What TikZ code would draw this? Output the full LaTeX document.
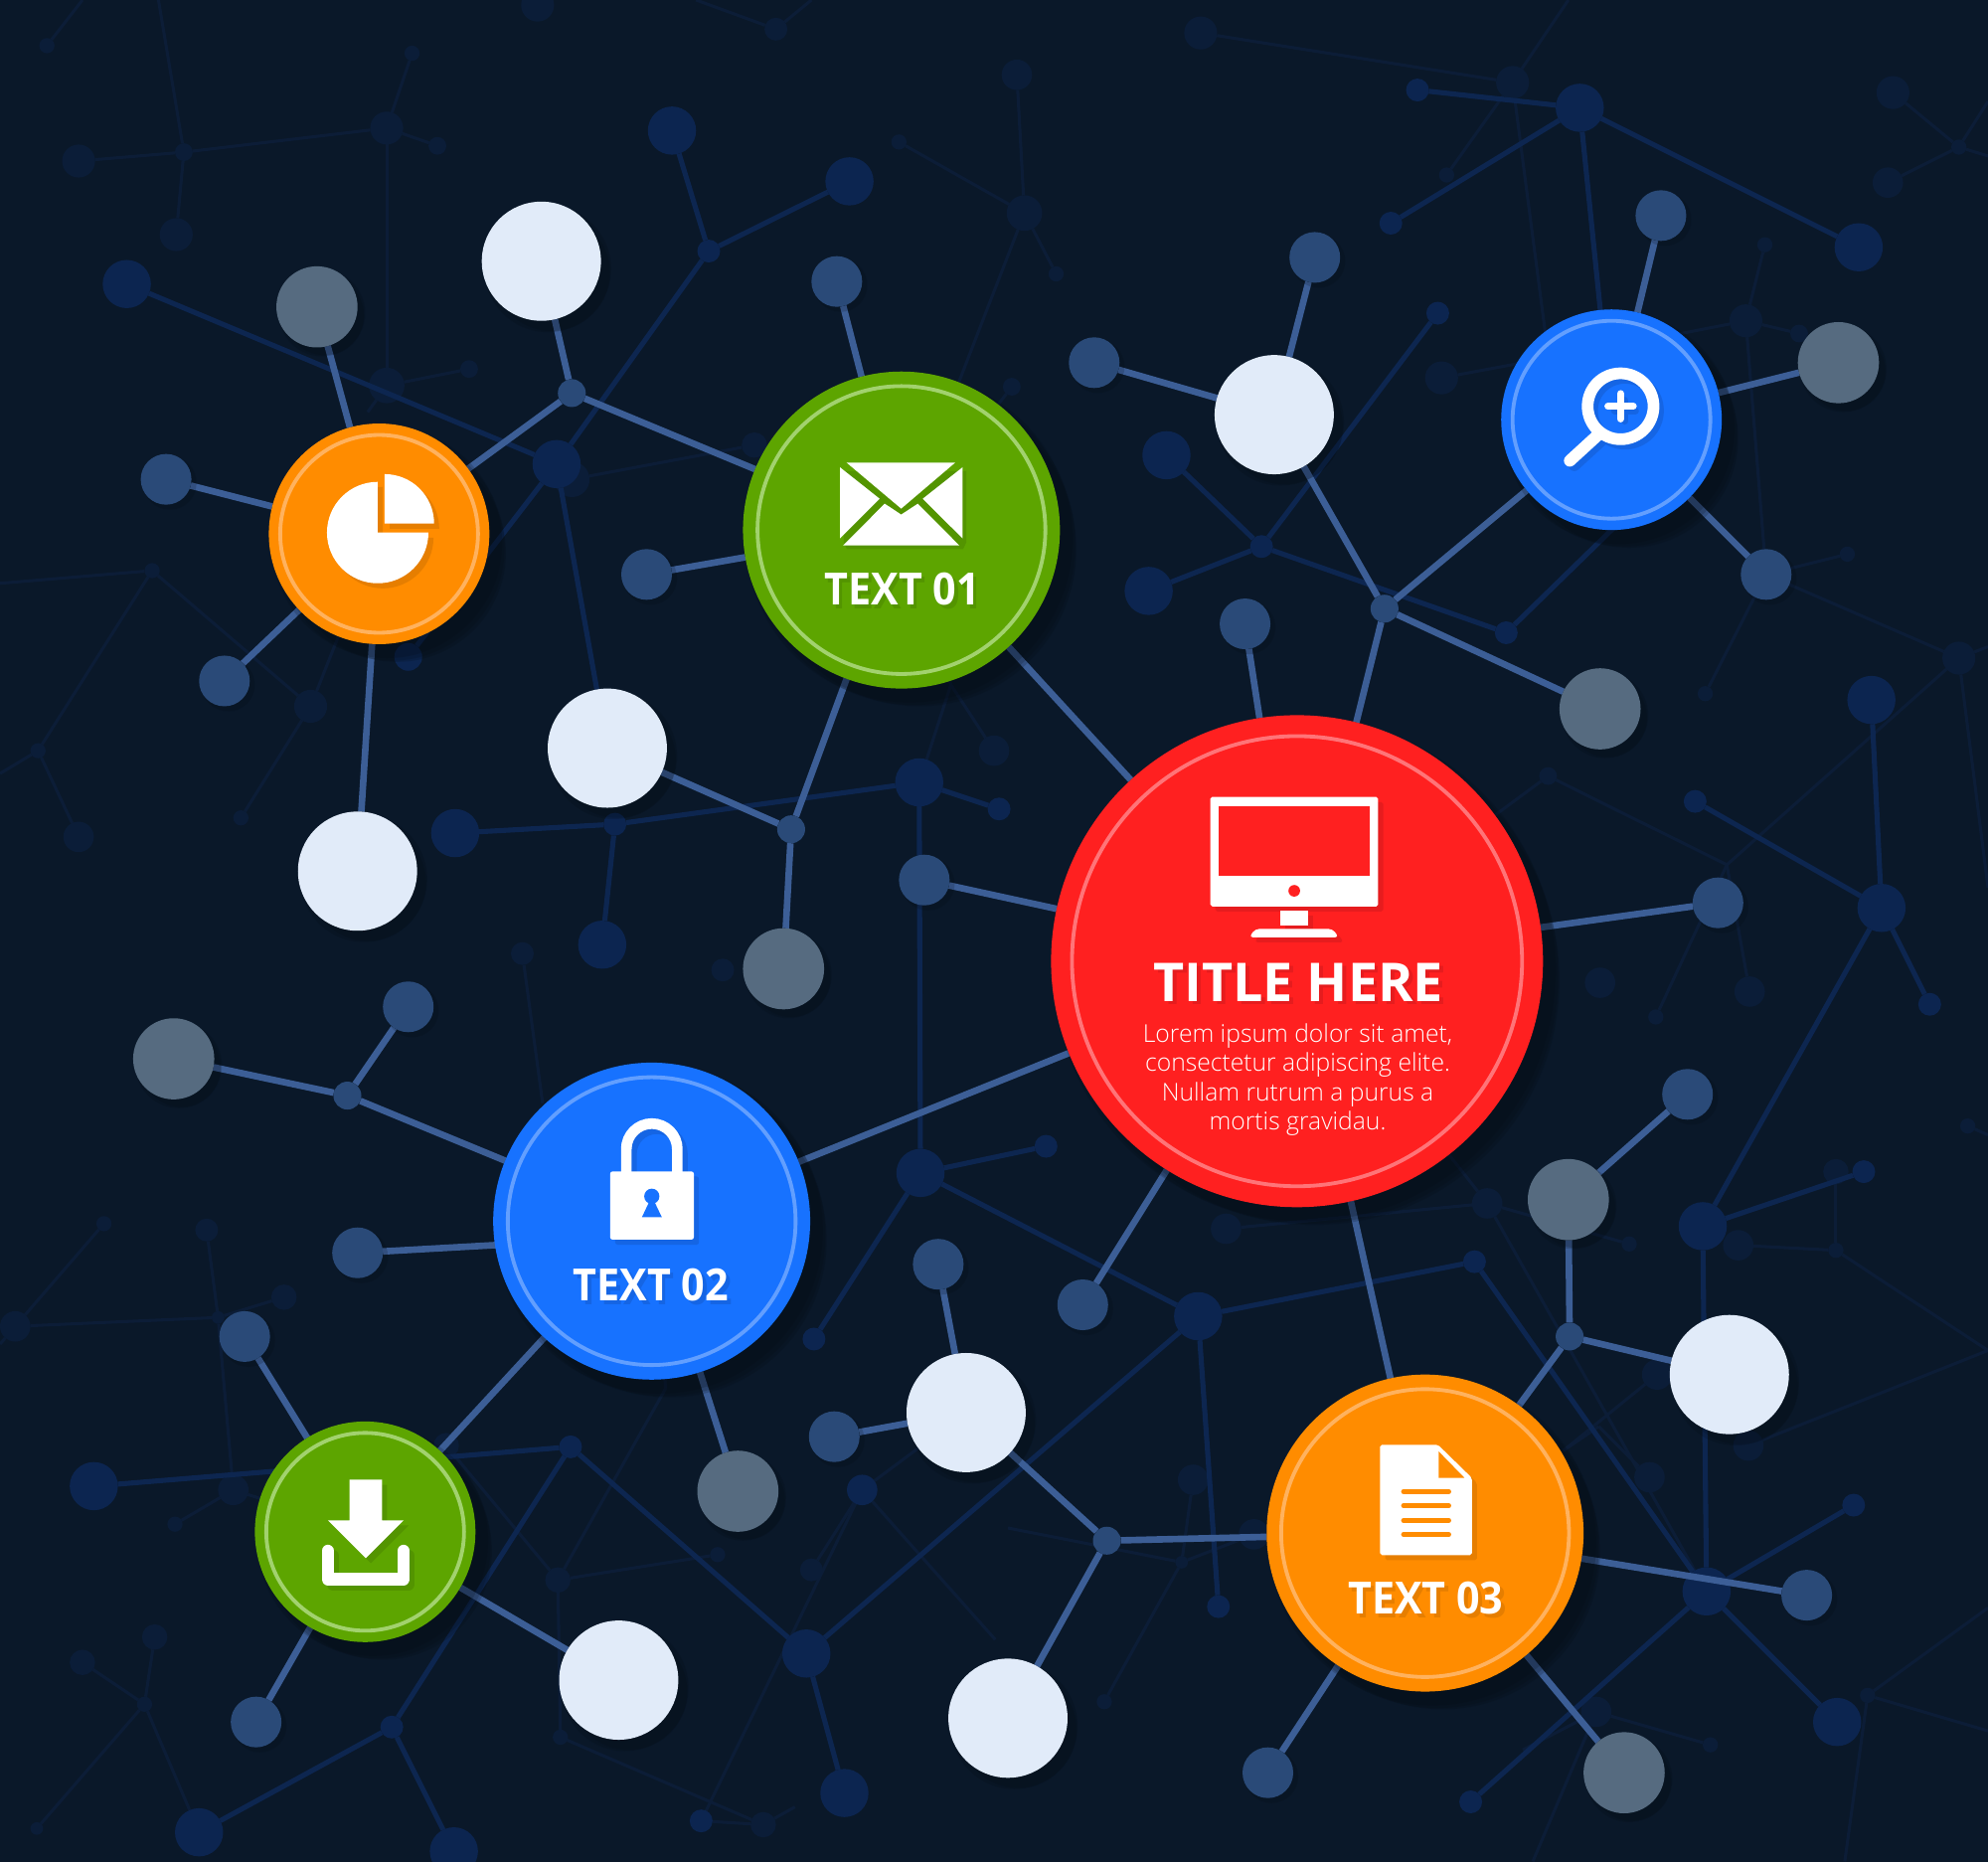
\documentclass[tikz,border=0pt]{standalone}
\usepackage{fontspec}
\setmainfont{Open Sans}
\newfontfamily\oslight{Open Sans Light}
\newfontfamily\labf[FakeStretch=0.925]{Open Sans}
\definecolor{bgc}{HTML}{0A1829}
\definecolor{faintc}{HTML}{0B1D38}
\definecolor{faintl}{HTML}{0C1D37}
\definecolor{darkc}{HTML}{0C2550}
\definecolor{darkl}{HTML}{0D2650}
\definecolor{linkc}{HTML}{3C5E96}
\definecolor{midc}{HTML}{2A4A78}
\definecolor{paled}{HTML}{E1EBF9}
\definecolor{greyc}{HTML}{566B80}
\definecolor{redc}{HTML}{FF2020}
\definecolor{redr}{HTML}{FF7478}
\definecolor{redd}{HTML}{E61C1E}
\definecolor{greenc}{HTML}{5DA500}
\definecolor{greenr}{HTML}{A2D26E}
\definecolor{greend}{HTML}{539400}
\definecolor{bluec}{HTML}{1772FF}
\definecolor{bluer}{HTML}{629FFF}
\definecolor{blued}{HTML}{1565E4}
\definecolor{orangec}{HTML}{FF8C00}
\definecolor{oranger}{HTML}{FFB25E}
\definecolor{oranged}{HTML}{E67E00}
\pgfdeclarelayer{backl}
\pgfdeclarelayer{fll}
\pgfdeclarelayer{fnl}
\pgfdeclarelayer{dll}
\pgfdeclarelayer{dnl}
\pgfdeclarelayer{mll}
\pgfsetlayers{backl,fll,fnl,dll,dnl,mll,main}
\tikzset{
  dotn/.style={circle,draw=none,inner sep=0pt,outer sep=0pt,fill=#1},
  flink/.style={draw=faintl,line width=2.4pt},
  dlink/.style={draw=darkl,line width=4pt},
  mlink/.style={draw=linkc,line width=5.2pt},
  softsh/.style={fill=black!60!bgc,opacity=0.17},
  ringl/.style={circle,draw=#1,line width=3pt,inner sep=0pt,fill=none},
  lab/.style={text=white,font=\labf\bfseries\fontsize{35}{40}\selectfont,anchor=base,inner sep=0pt},
  labs/.style={text=#1,font=\labf\bfseries\fontsize{35}{40}\selectfont,anchor=base,inner sep=0pt},
  body/.style={text=white,font=\oslight\fontsize{19.35}{24}\selectfont,anchor=base,inner sep=0pt}
}
\begin{document}
\begin{tikzpicture}[x=1pt,y=-1pt]
\useasboundingbox (0,0) rectangle (1568,1468);
\begin{pgfonlayer}{backl}
\fill[bgc] (-2,-2) rectangle (1570,1471);
\end{pgfonlayer}
% free ends at the picture's edge and ends hidden under discs
\foreach \n/\x/\y in {xa/65/0,xb/125/0,xc/0/460,xd/0/610,xe/0/1060,xf/549/0,xg/640/0,xh/1237/0,xi/1568/80,xj/1568/123,
  xk/1568/510,xl/1568/700,xm/1568/1065,xn/1568/1268,xo/1568/1365,xp/1455/1468,xq/1209/1468,xr/1568/895,xs/627/1425,
  ya/1362/682,yb/750/540,yc/428/870,yd/1233/1144,ye/1261/1125,yf/1201/1380,yg/785/1293,yh/795/1205,yi/290/325,yj/525/1095,
  yk/1310/380,yl/1225/310,ym/1280/272,yn/1260/275,yo/514/975}
  \coordinate (\n) at (\x,\y);
% faintest network
\begin{pgfonlayer}{fnl}
\foreach \n/\x/\y/\r in {fa/37/36/6,fb/145/120/7,fc/62/127/13,fd/139/185/13,fe/305/101/13,ff/345/115/7,fg/325/42/6,fh/305/304/14,fi/370/291/7,
  fj/120/450/6,fk/30/592/6,fl/62/660/12,fm/245/557/13,fn/190/645/6,fo/424/4/13,
  ga/1493/73/13,gb/1545/116/6,gc/1489/144/12,gd/1392/193/6,ge/1377/253/13,gf/1419/263/7,gg/1137/298/13,gh/1457/437/6,gi/1345/547/6,gj/1545/519/13,
  gk/1221/612/7,gl/1306/802/6,gm/1262/775/12,gn/1380/782/12,go/947/26/13,gp/1193/65/13,gq/1141/138/6,gr/802/59/12,gs/808/168/14,gt/709/112/6,gu/833/216/6,
  gv/612/23/9,gw/595/351/10,gx/798/305/7,gy/451/378/14,gz/412/752/9,hb/570/765/9,hc/784/592/12,he/163/970/9,hf/172/1039/5,hg/224/1023/10,hh/12/1046/12,hi/82/965/6,
  hj/184/1175/12,hk/138/1202/6,hl/352/1140/10,hm/440/1246/10,hn/442/1370/6,ho/566/1226/6,hp/602/1439/10,hq/122/1291/10,hr/65/1311/10,hs/114/1344/6,ht/29/1442/5,
  hu/640/1238/9,hv/871/1342/6,hw/941/1167/12,hx/932/1232/5,hy/967/969/12,hz/1173/949/12,ia/1285/981/6,ib/1448/924/10,ic/1448/986/6,id/1371/982/12,ie/1307/1084/12,
  if/1379/1140/12,ig/1301/1165/12,ih/1259/1350/12,ii/1349/1376/6,ij/1473/1337/6,ik/1552/888/6,il/989/1210/12}
  \node[dotn=faintc,minimum size=\r*2pt] (\n) at (\x,\y) {};
\end{pgfonlayer}
% darker network
\begin{pgfonlayer}{dnl}
\foreach \n/\x/\y/\r in {da/100/224/19,db/439/366/19,dc/530/103/19,dd/670/143/19,de/559/198/9,df/322/518/11,dg/359/657/19,dh/485/650/9,di/725/617/19,dj/475/745/19,
  dk/788/638/9,dl/726/925/19,dm/825/904/9,dn/945/1038/19,dp/636/1304/19,dq/961/1267/9,dr/642/1056/9,ds/450/1141/9,dt/666/1414/19,du/74/1172/19,dv/309/1362/9,
  dw/157/1445/19,dx/358/1460/19,dy/553/1436/9,dz/1163/995/9,
  ea/1246/85/19,eb/1118/71/9,ec/1097/176/9,ed/1466/195/19,ee/995/431/9,ef/1134/247/9,eg/920/359/19,eh/906/466/19,ei/1188/499/9,ej/1476/552/19,ek/1484/716/19,
  el/1337/632/9,em/1522/792/9,en/1343/967/19,eo/1470/924/9,ep/1346/1255/19,eq/1449/1358/19,er/1160/1421/9,es/1462/1187/9,et/680/1175/12}
  \node[dotn=darkc,minimum size=\r*2pt] (\n) at (\x,\y) {};
\end{pgfonlayer}
% foreground discs
\foreach \n/\x/\y in {pa/427/206,pb/1005/327,pc/479/590,pd/282/687,pe/762/1114,pf/488/1325,pg/795/1355,ph/1364/1084}{
  \fill[softsh] (\x+5,\y+6) circle (50pt);
  \fill[softsh] (\x+8,\y+9) circle (46pt);
  \node[dotn=paled,minimum size=94pt] (\n) at (\x,\y) {};}
\foreach \n/\x/\y in {qa/250/242,qb/1450/286,qc/1262/559,qd/618/764,qe/137/835,qf/1237/946,qg/582/1176,qh/1281/1398}{
  \fill[softsh] (\x+4,\y+5) circle (34pt);
  \fill[softsh] (\x+6,\y+7) circle (31pt);
  \node[dotn=greyc,minimum size=64pt] (\n) at (\x,\y) {};}
\foreach \n/\x/\y in {ma/131/378,mb/177/537,mc/510/453,md/660/222,me/863/286,mf/1037/203,mg/1310/170,mh/1393/453,mi/982/492,mj/1355/712,mk/729/694,
  ml/322/794,mm/282/988,mn/193/1054,mo/202/1358,mp/658/1133,mq/740/997,mr/854/1029,ms/1331/863,mt/1425/1258,mu/1000/1398}{
  \fill[softsh] (\x+3,\y+3) circle (21pt);
  \node[dotn=midc,minimum size=40pt] (\n) at (\x,\y) {};}
\foreach \n/\x/\y in {ha/451/310,hd/624/654,he2/1092/480,hf2/274/864,hg2/1238/1054,hh2/873/1215}
  \node[dotn=midc,minimum size=22pt] (\n) at (\x,\y) {};
% big circles
\foreach \n/\x/\y/\r/\c/\q/\rr in {chart/299/421/87/orangec/oranger/78,magn/1271/331/87/bluec/bluer/78,down/288/1208/87/greenc/greenr/78,
  tone/711/418/125/greenc/greenr/113.5,ttwo/514/963/125/bluec/bluer/113.5,tthree/1124/1209/125/orangec/oranger/113.5,title/1023/758/194/redc/redr/177.5}{
  \fill[softsh] (\x+6,\y+7) circle (\r+4);
  \fill[softsh] (\x+10,\y+11) circle (\r+2);
  \fill[softsh] (\x+14,\y+15) circle (\r-1);
  \node[dotn=\c,minimum size=\r*2pt] (\n) at (\x,\y) {};
  \node[ringl=\q,minimum size=\rr*2pt] (\n r) at (\x,\y) {};}
% links
\begin{pgfonlayer}{fll}
\foreach \a/\b in {fa/xa,fb/xb,fc/fb,fb/fe,fb/fd,fe/ff,fe/fg,fe/fh,fh/fi,fh/yi,fj/xc,fj/fk,fj/fm,fk/xd,fk/fl,fm/fn,fm/chart,
  hi/hh,hh/hf,hf/hg,hh/xe,he/hf,hf/hj,hj/hk,hj/down,hl/hm,hm/hn,hm/ho,hm/yj,yj/ttwo,hn/hp,hp/dy,hp/xs,hs/hq,hs/hr,hs/ht,hs/dw,
  ga/gb,gc/gb,gb/xi,gb/xj,gd/ge,ge/gf,ge/ym,ge/mh,gg/yn,mh/gh,mh/gi,mh/gj,gj/xk,gj/xl,gj/ya,ya/gl,ya/gn,ya/gk,gk/title,
  go/gp,gp/xh,gp/gq,gp/yl,gr/gs,gs/gt,gs/gu,gs/tone,gv/xf,gv/xg,gy/gw,gz/yc,di/yb,yb/hc,yb/tone,gx/tone,
  hu/et,et/yg,et/pe,dy/et,hv/hx,hx/hw,hx/il,hx/yh,hy/hz,hz/ia,hz/ep,hz/title,ic/id,ic/ib,ic/xm,xm/if,ie/yd,yd/ye,ye/ig,ih/ii,ih/yf,ih/xq,ij/xn,ij/xo,ij/xp,ik/xr,il/tthree}
  \draw[flink] (\a) -- (\b);
\end{pgfonlayer}
\begin{pgfonlayer}{dll}
\foreach \a/\b in {da/db,db/de,de/dc,de/dd,db/df,db/pc,dg/dh,dh/di,dh/dj,di/dk,di/dl,dl/dm,dl/dn,dl/dr,dn/dz,dn/dp,dn/dq,dp/ds,dp/dt,ds/du,ds/dv,dv/dw,dv/dx,
  ea/eb,ea/ec,ea/ed,ea/magn,ee/ef,ee/eg,ee/eh,ee/ei,ei/yk,ej/ek,ek/el,ek/em,ek/en,en/eo,en/ep,ep/dz,ep/eq,ep/er,ep/es}
  \draw[dlink] (\a) -- (\b);
\end{pgfonlayer}
\begin{pgfonlayer}{mll}
\foreach \a/\b in {chart/qa,chart/ma,chart/mb,chart/pd,chart/ha,ha/pa,ha/tone,tone/md,tone/mc,tone/hd,tone/title,hd/pc,hd/qd,
  title/mk,title/ttwo,title/mr,title/mi,title/he2,title/mj,title/tthree,he2/pb,pb/me,pb/mf,he2/magn,he2/qc,magn/mg,magn/qb,magn/mh,
  ttwo/hf2,hf2/qe,hf2/ml,yo/mm,ttwo/down,ttwo/qg,down/mn,down/mo,down/pf,pe/mp,pe/mq,pe/hh2,hh2/pg,hh2/tthree,
  tthree/hg2,hg2/qf,qf/ms,hg2/ph,tthree/mt,tthree/qh,tthree/mu}
  \draw[mlink] (\a) -- (\b);
\end{pgfonlayer}
% pie icon
\fill[oranged] (301.9,424) -- ++(0,-40) arc (90:360:40pt) -- cycle;
\fill[oranged] (307.4,416.9) -- ++(0,-39) arc (90:0:39pt) -- cycle;
\fill[white] (297.9,420) -- ++(0,-40) arc (90:360:40pt) -- cycle;
\fill[white] (303.4,412.9) -- ++(0,-39) arc (90:0:39pt) -- cycle;
% magnifier
\begin{scope}[shift={(3.5,3.5)},blued]
\draw[line width=9.2pt] (1278.2,320.4) circle (26pt);
\draw[line width=9.4pt,line cap=round] (1259.6,343.7) -- (1238.2,363.3);
\draw[line width=5.5pt,line cap=round] (1270,320.4) -- (1286.4,320.4) (1278.2,312.2) -- (1278.2,328.6);
\end{scope}
\draw[white,line width=9.2pt] (1278.2,320.4) circle (26pt);
\draw[white,line width=9.4pt,line cap=round] (1259.6,343.7) -- (1238.2,363.3);
\draw[white,line width=5.5pt,line cap=round] (1268.2,320.4) -- (1288.2,320.4) (1278.2,310.4) -- (1278.2,330.4);
% download icon
\foreach \dx/\c in {4/greend,0/white}{
\begin{scope}[shift={(\dx,\dx)}]
\fill[\c] (275.7,1166.9) -- (301.3,1166.9) -- (301.3,1199) -- (318.3,1199) -- (288.5,1228.8) -- (258.7,1199) -- (275.7,1199) -- cycle;
\draw[\c,line width=9.6pt,line cap=round,line join=round] (258.5,1223) -- (258.5,1245.3) -- (318.3,1245.3) -- (318.3,1223);
\end{scope}}
% envelope
\begin{scope}[shift={(3,3)}]
\fill[greend] (662.5,368.5) -- (759.2,368.5) -- (759.2,424.6) -- (756.6,430.1) -- (665,430.1) -- (662.5,424.6) -- cycle;
\end{scope}
\fill[white] (667.7,364.8) -- (753.4,364.8) -- (710.8,401.1) -- cycle;
\fill[white] (662.5,368.5) -- (693.8,393.3) -- (662.5,424.6) -- cycle;
\fill[white] (759.2,368.5) -- (727.8,393.3) -- (759.2,424.6) -- cycle;
\fill[white] (665,430.1) -- (697.8,397.2) -- (710.8,405.8) -- (723.9,397.2) -- (756.6,430.1) -- cycle;
% lock
\begin{scope}[shift={(4,4)},blued]
\draw[line width=8.4pt] (494,923.8) -- (494,906.2) arc (180:0:20.1pt) -- (534.2,923.8);
\fill[rounded corners=2pt] (481.2,923.8) rectangle (547.3,977.6);
\end{scope}
\draw[white,line width=8.4pt] (494,925) -- (494,906.2) arc (180:0:20.1pt) -- (534.2,925);
\fill[white,rounded corners=2pt] (481.2,923.8) rectangle (547.3,977.6);
\fill[bluec] (514.1,943.4) circle (6pt);
\fill[bluec] (514.1,943.4) -- (506.3,959.9) -- (522,959.9) -- cycle;
% document
\fill[oranged,rounded corners=1.5pt] (1092.5,1143.4) -- (1138.2,1143.4) -- (1164.9,1169.5) -- (1164.9,1230.4) -- (1092.5,1230.4) -- cycle;
\fill[white,rounded corners=1.5pt] (1088.5,1139.4) -- (1134.2,1139.4) -- (1160.9,1165.5) -- (1160.9,1226.4) -- (1088.5,1226.4) -- cycle;
\fill[orangec] (1134.7,1144.6) -- (1134.7,1165.5) -- (1155.1,1165.5) -- cycle;
\foreach \y in {1176.2,1187.5,1199,1210.2}
  \draw[orangec,line width=3.8pt,line cap=round] (1107,\y) -- (1142.7,\y);
% monitor
\begin{scope}[shift={(4,4)},redd]
\fill[rounded corners=1.5pt] (954.6,628.5) rectangle (1087,714.8);
\fill (1009.9,718) rectangle (1031.7,730);
\fill[rounded corners=3pt] (985.2,739.2) -- (990,732.6) -- (1051,732.6) -- (1056,739.2) -- cycle;
\end{scope}
\fill[white,rounded corners=1.5pt] (954.6,628.5) rectangle (1087,714.8);
\fill[redc] (960.8,635.8) rectangle (1080.4,690.7);
\fill[redc] (1020.8,702.5) circle (4.6pt);
\fill[white] (1009.9,718) rectangle (1031.7,730);
\fill[white,rounded corners=3pt] (985.2,739.2) -- (990,732.6) -- (1051,732.6) -- (1056,739.2) -- cycle;
% texts
\node[labs=greend] (l1s) at (714.3,479.9) {TEXT 01};
\node[lab] (l1) at (711.8,476.9) {TEXT 01};
\node[labs=blued] (l2s) at (516.3,1028.7) {TEXT 02};
\node[lab] (l2) at (513.3,1025.7) {TEXT 02};
\node[labs=oranged] (l3s) at (1127.5,1276) {TEXT 03};
\node[lab] (l3) at (1124.5,1273) {TEXT 03};
\node[text=redd,font=\bfseries\fontsize{42.2}{48}\selectfont,anchor=base,inner sep=0pt] (ts) at (1027,792.5) {TITLE HERE};
\node[text=white,font=\bfseries\fontsize{42.2}{48}\selectfont,anchor=base,inner sep=0pt] (t) at (1024,789.5) {TITLE HERE};
\node[body] (b1) at (1023.5,822) {Lorem ipsum dolor sit amet,};
\node[body] (b2) at (1023.5,845) {consectetur adipiscing elite.};
\node[body] (b3) at (1023.5,868) {Nullam rutrum a purus a};
\node[body] (b4) at (1023.5,891) {mortis gravidau.};
\end{tikzpicture}
\end{document}
